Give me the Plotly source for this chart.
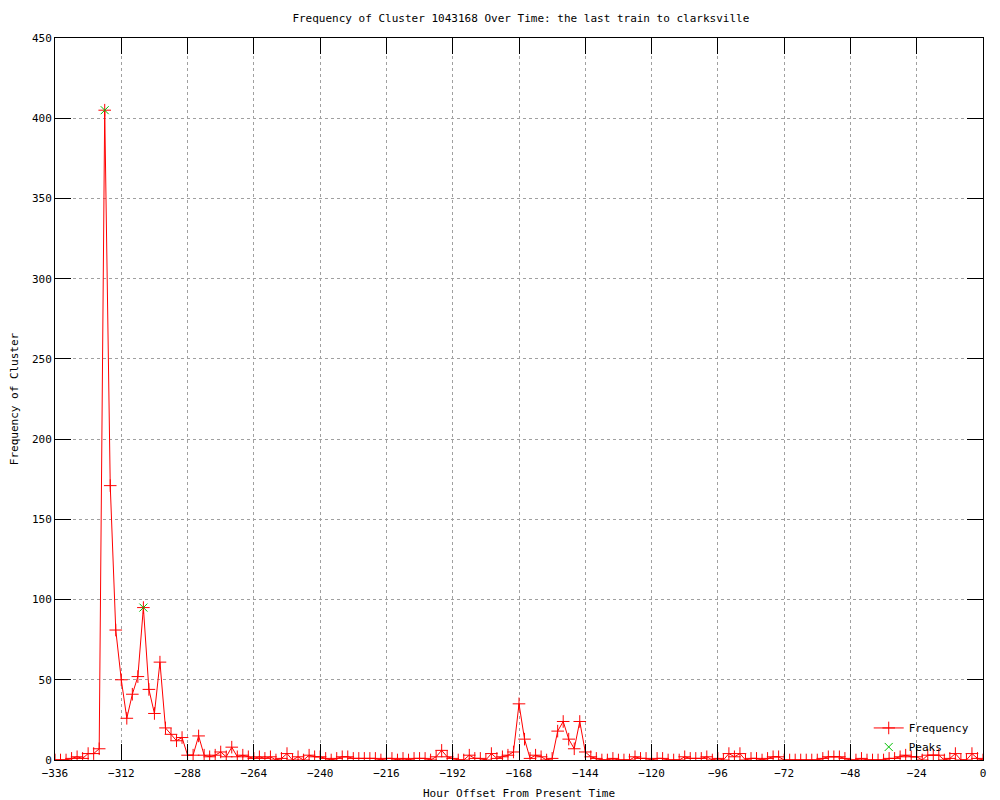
import plotly.graph_objects as go

hours = list(range(-336, 1, 2))
frequency = [
    0, 0, 0, 1, 2, 1, 4, 4, 7, 405,
    171, 81, 50, 26, 41, 52, 95, 44, 29, 61,
    20, 16, 12, 14, 3, 3, 15, 3, 2, 3,
    5, 2, 8, 2, 3, 2, 1, 2, 1, 2,
    0, 1, 4, 0, 2, 0, 3, 2, 2, 1,
    0, 1, 2, 2, 1, 1, 1, 1, 1, 0,
    1, 1, 0, 1, 0, 1, 1, 1, 0, 2,
    6, 2, 1, 0, 0, 3, 1, 1, 0, 4,
    1, 2, 3, 5, 35, 13, 1, 3, 2, 0,
    1, 18, 24, 13, 7, 24, 5, 2, 1, 0,
    0, 1, 0, 0, 0, 2, 1, 1, 0, 1,
    1, 0, 0, 0, 2, 1, 1, 1, 2, 0,
    1, 0, 4, 2, 4, 0, 1, 1, 0, 1,
    2, 2, 0, 0, 0, 0, 0, 0, 0, 1,
    2, 2, 2, 1, 0, 0, 1, 0, 0, 0,
    0, 1, 1, 2, 3, 2, 2, 0, 3, 3,
    3, 0, 1, 4, 0, 0, 4, 1, 0,
]
assert len(frequency) == len(hours), (len(frequency), len(hours))

peak_hours = [-318, -304]
peak_values = [405, 95]

x_ticks = list(range(-336, 1, 24))
y_ticks = list(range(0, 451, 50))

FONT = "DejaVu Sans Mono"

fig = go.Figure()
fig.add_trace(go.Scatter(
    x=hours, y=frequency, name="Frequency", mode="lines+markers",
    line=dict(color="#ff0000", width=1),
    marker=dict(symbol="cross-thin", size=9, line=dict(color="#ff0000", width=1)),
))
fig.add_trace(go.Scatter(
    x=peak_hours, y=peak_values, name="Peaks", mode="markers",
    marker=dict(symbol="x-thin", size=8, line=dict(color="#00c000", width=1)),
))

axis_common = dict(
    showline=True, linecolor="black", linewidth=1, mirror="allticks",
    ticks="inside", ticklen=16, tickcolor="black", tickwidth=1,
    showgrid=True, gridcolor="#a0a0a0", griddash="dot", gridwidth=1,
    zeroline=False, tickfont=dict(family=FONT, size=11, color="black"),
)

fig.update_layout(
    width=992, height=792,
    paper_bgcolor="white", plot_bgcolor="white",
    margin=dict(l=47, r=17, t=30, b=40, autoexpand=False),
    title=dict(text="Frequency of Cluster 1043168 Over Time: the last train to clarksville",
               x=0.517, xanchor="center", y=0.987, yanchor="middle",
               font=dict(family=FONT, size=11, color="black")),
    xaxis=dict(range=[-336, 0], tickvals=x_ticks, ticklabelstandoff=3,
               title=dict(text="Hour Offset From Present Time", standoff=14,
                          font=dict(family=FONT, size=11, color="black")),
               **axis_common),
    yaxis=dict(range=[0, 450], tickvals=y_ticks,
               title=dict(text="Frequency of Cluster", standoff=12,
                          font=dict(family=FONT, size=11, color="black")),
               **axis_common),
    legend=dict(x=0.99, y=-0.002, xanchor="right", yanchor="bottom",
                bgcolor="rgba(0,0,0,0)", font=dict(family=FONT, size=11, color="black"),
                tracegroupgap=0, itemwidth=30),
    showlegend=True,
)

fig.write_html("out.html")
